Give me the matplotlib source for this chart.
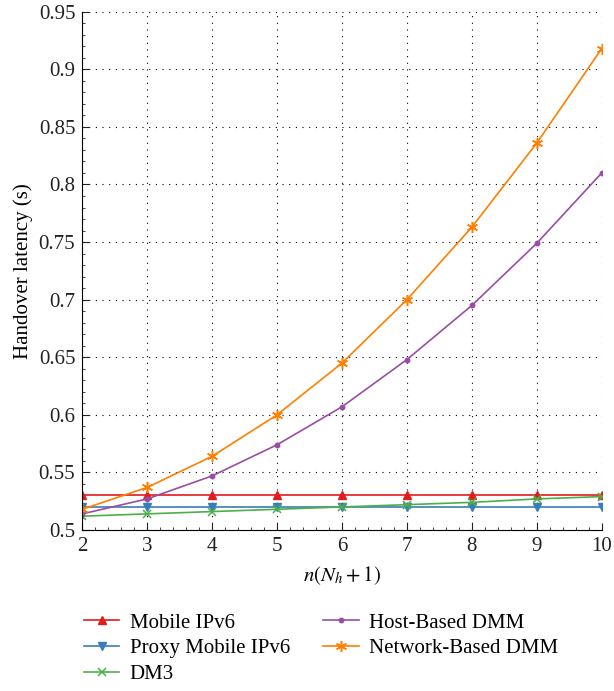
import numpy as np
import matplotlib.pyplot as plt
from matplotlib.ticker import AutoMinorLocator, MultipleLocator

plt.rcParams['font.family'] = ['Liberation Serif', 'DejaVu Serif']
plt.rcParams['mathtext.fontset'] = 'stix'

# Data
x = [2, 3, 4, 5, 6, 7, 8, 9, 10]
mipv6 = [0.530, 0.530, 0.530, 0.530, 0.530, 0.530, 0.530, 0.530, 0.530]
pmipv6 = [0.520, 0.520, 0.520, 0.520, 0.520, 0.520, 0.520, 0.520, 0.520]
dm3 = [0.512, 0.514, 0.516, 0.518, 0.520, 0.522, 0.524, 0.527, 0.529]
host_dmm = [0.514, 0.527, 0.547, 0.574, 0.607, 0.648, 0.695, 0.749, 0.810]
net_dmm = [0.518, 0.537, 0.564, 0.600, 0.645, 0.700, 0.763, 0.836, 0.918]

fig = plt.figure(figsize=(6.14, 6.91), dpi=100)
ax = fig.add_axes([0.134, 0.233, 0.846, 0.75])

ax.plot(x, mipv6, color='#e41a1c', marker='^', markersize=6, lw=1.2, label='Mobile IPv6')
ax.plot(x, pmipv6, color='#377eb8', marker='v', markersize=6, lw=1.2, label='Proxy Mobile IPv6')
ax.plot(x, dm3, color='#4daf4a', marker='x', markersize=6, mew=1.1, lw=1.2, label='DM3')
ax.plot(x, host_dmm, color='#984ea3', marker='o', markersize=3.2, lw=1.2, label='Host-Based DMM')
ax.plot(x, net_dmm, color='#ff7f00', marker=(6, 2, 0), markersize=8, mew=1.1, lw=1.2,
        label='Network-Based DMM')

ax.set_xlim(2, 10)
ax.set_ylim(0.5, 0.95)
ax.xaxis.set_major_locator(MultipleLocator(1))
ax.xaxis.set_minor_locator(AutoMinorLocator(5))
ax.yaxis.set_minor_locator(AutoMinorLocator(5))
ax.set_yticks(np.arange(0.5, 0.951, 0.05))
ax.set_yticklabels(['0.5', '0.55', '0.6', '0.65', '0.7', '0.75', '0.8', '0.85', '0.9', '0.95'])

ax.tick_params(which='both', direction='in', labelsize=15, colors='#222222', pad=5)
ax.tick_params(which='major', length=5)
ax.tick_params(which='minor', length=2.5)
ax.spines['top'].set_visible(False)
ax.spines['right'].set_visible(False)
ax.grid(True, which='major', linestyle=(0, (1, 5)), color='black', linewidth=0.8)

ax.set_xlabel(r'$n(N_h + 1)$', fontsize=15, labelpad=6)
ax.set_ylabel('Handover latency (s)', fontsize=15)

fig.legend(ncol=2, loc='upper left', bbox_to_anchor=(0.106, 0.14), frameon=False,
           fontsize=15, handlelength=1.7, handletextpad=0.5, columnspacing=1.6,
           labelspacing=0.3)

fig.savefig('out.png', dpi=100)
